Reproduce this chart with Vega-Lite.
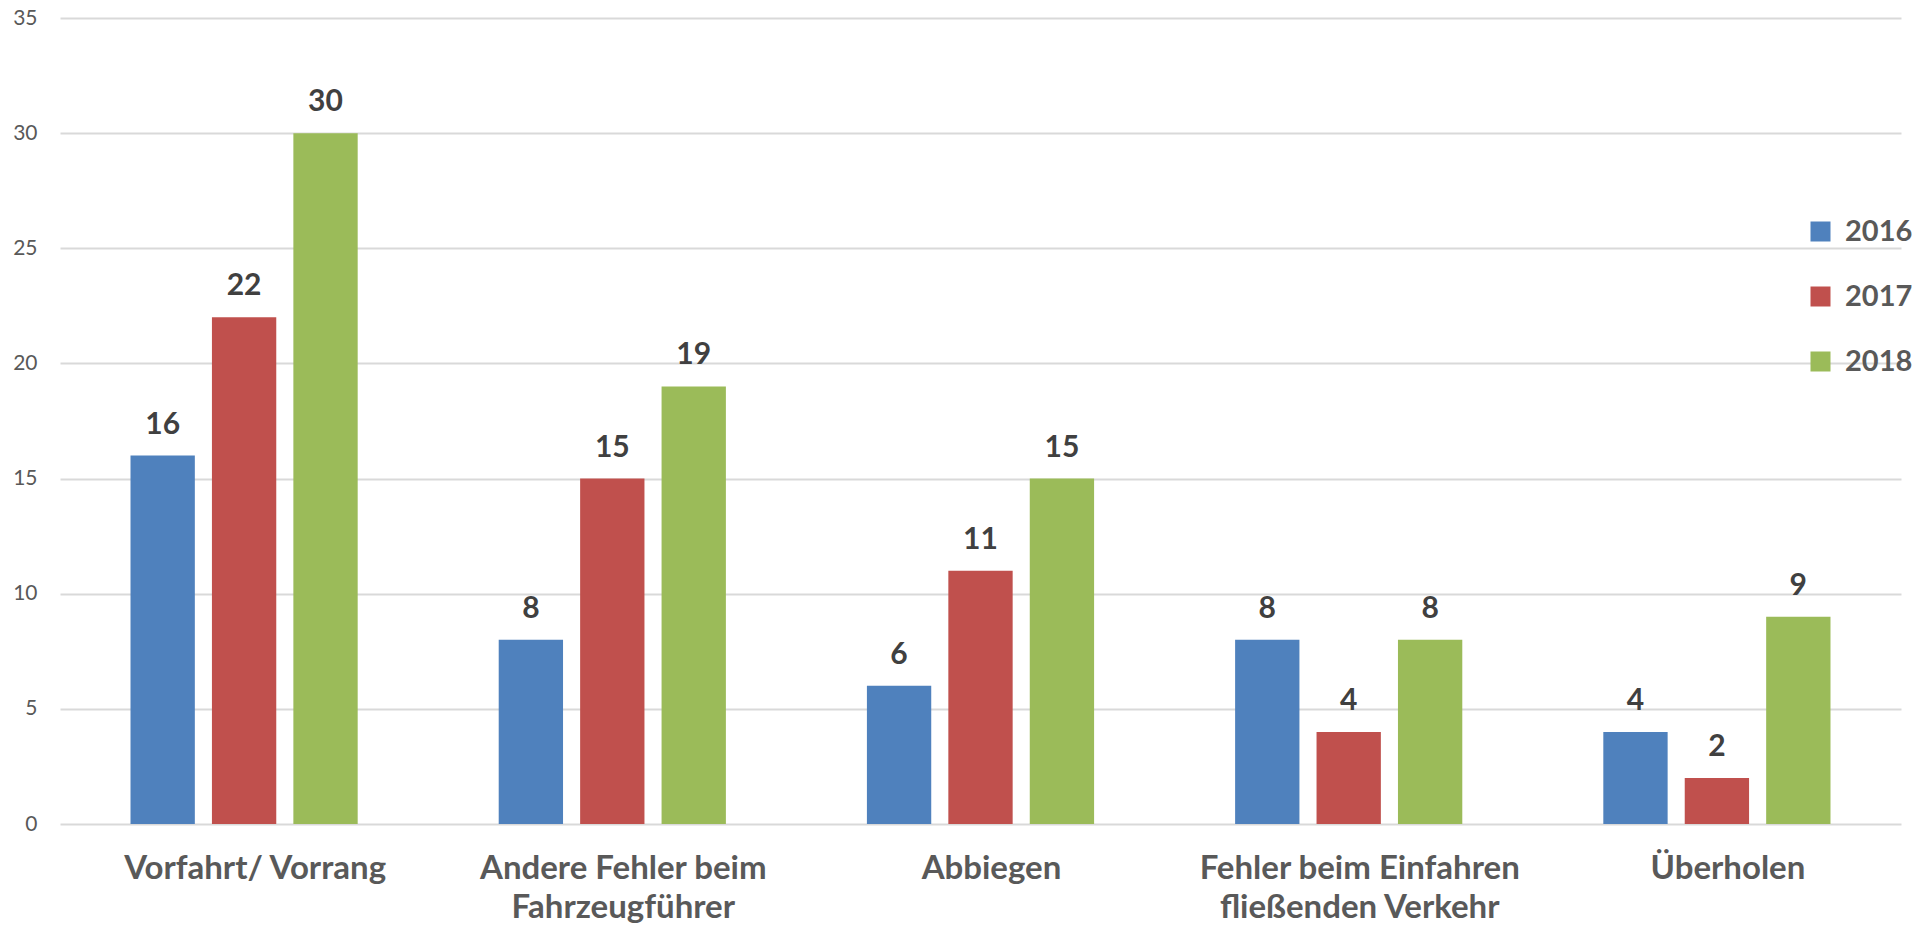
{
  "$schema": "https://vega.github.io/schema/vega-lite/v6.json",
  "autosize": {"type": "none"},
  "padding": {"left": 60, "top": 18, "right": 30, "bottom": 103},
  "width": 1841,
  "height": 806,
  "config": {
    "view": {"stroke": null},
    "font": "Lato"
  },
  "data": {
    "values": [
      {"cat": "Vorfahrt/ Vorrang", "year": "2016", "value": 16},
      {"cat": "Vorfahrt/ Vorrang", "year": "2017", "value": 22},
      {"cat": "Vorfahrt/ Vorrang", "year": "2018", "value": 30},
      {"cat": "Andere Fehler beim Fahrzeugführer", "year": "2016", "value": 8},
      {"cat": "Andere Fehler beim Fahrzeugführer", "year": "2017", "value": 15},
      {"cat": "Andere Fehler beim Fahrzeugführer", "year": "2018", "value": 19},
      {"cat": "Abbiegen", "year": "2016", "value": 6},
      {"cat": "Abbiegen", "year": "2017", "value": 11},
      {"cat": "Abbiegen", "year": "2018", "value": 15},
      {"cat": "Fehler beim Einfahren fließenden Verkehr", "year": "2016", "value": 8},
      {"cat": "Fehler beim Einfahren fließenden Verkehr", "year": "2017", "value": 4},
      {"cat": "Fehler beim Einfahren fließenden Verkehr", "year": "2018", "value": 8},
      {"cat": "Überholen", "year": "2016", "value": 4},
      {"cat": "Überholen", "year": "2017", "value": 2},
      {"cat": "Überholen", "year": "2018", "value": 9}
    ]
  },
  "encoding": {
    "x": {
      "field": "cat",
      "type": "nominal",
      "sort": null,
      "scale": {"paddingInner": 0.383, "paddingOuter": 0.1915},
      "axis": {
        "title": null,
        "domain": false,
        "ticks": false,
        "labelAngle": 0,
        "labelFont": "Lato",
        "labelFontSize": 33,
        "labelFontWeight": "bold",
        "labelColor": "#595959",
        "labelPadding": 28,
        "labelLineHeight": 39,
        "labelLimit": 500,
        "labelOffset": 11,
        "labelExpr": "datum.label == 'Andere Fehler beim Fahrzeugführer' ? ['Andere Fehler beim', 'Fahrzeugführer'] : datum.label == 'Fehler beim Einfahren fließenden Verkehr' ? ['Fehler beim Einfahren', 'fließenden Verkehr'] : datum.label"
      }
    },
    "xOffset": {
      "field": "year",
      "type": "nominal",
      "scale": {"paddingInner": 0.21, "paddingOuter": 0}
    },
    "y": {
      "field": "value",
      "type": "quantitative",
      "scale": {"domain": [0, 35], "nice": false},
      "axis": {
        "title": null,
        "domain": false,
        "ticks": false,
        "values": [0, 5, 10, 15, 20, 25, 30, 35],
        "labelFont": "Lato",
        "labelFontSize": 21,
        "labelColor": "#595959",
        "labelPadding": 23,
        "grid": true,
        "gridColor": "#d9d9d9",
        "gridWidth": 2
      }
    }
  },
  "layer": [
    {
      "mark": {"type": "bar"},
      "encoding": {
        "color": {
          "field": "year",
          "type": "nominal",
          "scale": {"domain": ["2016", "2017", "2018"], "range": ["#4F81BD", "#C0504D", "#9BBB59"]},
          "legend": {
            "title": null,
            "orient": "none",
            "legendX": 1746,
            "legendY": 199,
            "padding": 0,
            "symbolType": "square",
            "symbolSize": 400,
            "symbolStrokeWidth": 0,
            "labelFont": "Lato",
            "labelFontSize": 29,
            "labelFontWeight": "bold",
            "labelColor": "#595959",
            "labelOffset": 10,
            "rowPadding": 35
          }
        }
      }
    },
    {
      "mark": {
        "type": "text",
        "baseline": "alphabetic",
        "align": "center",
        "dy": -22,
        "font": "Lato",
        "fontSize": 30,
        "fontWeight": "bold",
        "color": "#404040"
      },
      "encoding": {
        "text": {"field": "value", "type": "quantitative"}
      }
    }
  ]
}
